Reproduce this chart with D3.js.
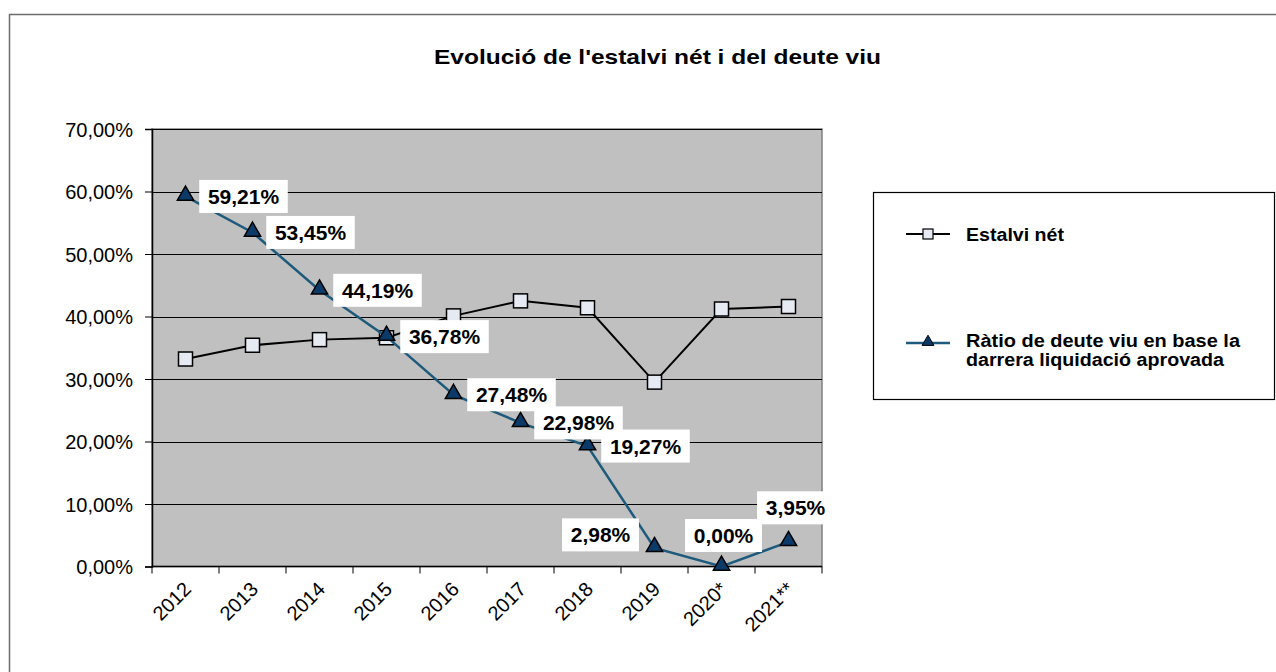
<!DOCTYPE html>
<html>
<head>
<meta charset="utf-8">
<script src="https://cdn.jsdelivr.net/npm/d3@7"></script>
<style>
  body { margin:0; background:#fff; }
  text { font-family: Arial, "Liberation Sans", sans-serif; }
</style>
</head>
<body>
<div id="chart"></div>
<script>
// data
var years = ["2012","2013","2014","2015","2016","2017","2018","2019","2020*","2021**"];
var estalviNet = [33.2, 35.4, 36.3, 36.6, 40.1, 42.5, 41.4, 29.5, 41.2, 41.6];
var ratioDeute = [59.21, 53.45, 44.19, 36.78, 27.48, 22.98, 19.27, 2.98, 0.00, 3.95];
var ratioLabelSide = ["right","right","right","right","right","right","right","left","above","aboveRight"];
var yTicks = [0,10,20,30,40,50,60,70];
var seriesNames = ["Estalvi nét", "Ràtio de deute viu en base la|darrera liquidació aprovada"];

var W = 1276, H = 672;
var plot = {left:152, right:822, top:129, bottom:566.5};

var svg = d3.select("#chart").append("svg")
    .attr("width", W).attr("height", H);

// outer chart frame (runs off right/bottom)
svg.append("rect")
    .attr("x", 9.5).attr("y", 14.5)
    .attr("width", W + 20).attr("height", H + 20)
    .attr("fill", "#fff").attr("stroke", "#6e6e6e").attr("stroke-width", 1.5);

svg.append("text")
    .attr("x", 434).attr("y", 64)
    .attr("textLength", 447).attr("lengthAdjust", "spacingAndGlyphs")
    .style("font-size", "21px").style("font-weight", "bold")
    .text("Evolució de l'estalvi nét i del deute viu");

var x = d3.scaleBand().domain(years).range([plot.left, plot.right]);
var y = d3.scaleLinear().domain([0, 70]).range([plot.bottom, plot.top]);
var fmt = function(v){ return d3.format(".2f")(v).replace(".", ",") + "%"; };

var g = svg.append("g");

g.append("rect")
    .attr("x", plot.left).attr("y", plot.top)
    .attr("width", plot.right - plot.left).attr("height", plot.bottom - plot.top)
    .attr("fill", "#c0c0c0").attr("stroke", "#808080").attr("stroke-width", 1.5);

// gridlines
g.selectAll("line.grid").data(yTicks.filter(function(d){return d > 0;}))
  .enter().append("line")
    .attr("class", "grid")
    .attr("x1", plot.left).attr("x2", plot.right)
    .attr("y1", function(d){return Math.round(y(d)) + 0.5;})
    .attr("y2", function(d){return Math.round(y(d)) + 0.5;})
    .attr("stroke", "#000").attr("stroke-width", 1);

// y axis
var yAxis = d3.axisLeft(y).tickValues(yTicks).tickSize(7).tickFormat(fmt);
var ya = g.append("g").attr("transform", "translate(" + plot.left + ",0)").call(yAxis);
ya.select(".domain").attr("stroke", "#000").attr("stroke-width", 1.5);
ya.selectAll(".tick line").attr("stroke", "#000");
ya.selectAll(".tick text")
    .attr("x", -19).attr("dy", "0.35em")
    .style("font-size", "20px").style("font-family", "Arial, 'Liberation Sans', sans-serif")
    .attr("fill", "#000");

// x axis: ticks at category boundaries
var xa = g.append("g").attr("transform", "translate(0," + plot.bottom + ")");
xa.append("line")
    .attr("x1", plot.left).attr("x2", plot.right)
    .attr("stroke", "#000").attr("stroke-width", 1.5);
var bounds = years.map(function(d){ return x(d); }).concat([plot.right]);
xa.selectAll("line.tk").data(bounds).enter().append("line")
    .attr("class", "tk")
    .attr("x1", function(d){return d;}).attr("x2", function(d){return d;})
    .attr("y1", 0).attr("y2", 7)
    .attr("stroke", "#000").attr("stroke-width", 1);
xa.selectAll("text").data(years).enter().append("text")
    .attr("transform", function(d){
        return "translate(" + (x(d) + x.bandwidth()/2 - 3) + ",14) rotate(-45)";
    })
    .attr("text-anchor", "end")
    .attr("dy", "0.7em")
    .style("font-size", "20px")
    .text(function(d){return d;});

var cx = function(i){ return x(years[i]) + x.bandwidth()/2; };

// Estalvi nét series
var line = d3.line().x(function(d,i){return cx(i);}).y(function(d){return y(d);});
g.append("path").datum(estalviNet)
    .attr("d", line).attr("fill", "none")
    .attr("stroke", "#000").attr("stroke-width", 2);
g.selectAll("rect.sq").data(estalviNet).enter().append("rect")
    .attr("class", "sq")
    .attr("x", function(d,i){return cx(i) - 7;})
    .attr("y", function(d){return y(d) - 7;})
    .attr("width", 14).attr("height", 14)
    .attr("fill", "#e6eaf2").attr("stroke", "#000").attr("stroke-width", 1.5);

// Ràtio de deute series
var navyLine = "#1d5a7c", navyFill = "#0c3a68";
g.append("path").datum(ratioDeute)
    .attr("d", line).attr("fill", "none")
    .attr("stroke", navyLine).attr("stroke-width", 2.5);
var tri = d3.symbol().type(d3.symbolTriangle).size(115);
g.selectAll("path.tri").data(ratioDeute).enter().append("path")
    .attr("class", "tri")
    .attr("d", tri)
    .attr("transform", function(d,i){ return "translate(" + cx(i) + "," + (y(d) - 1) + ")"; })
    .attr("fill", navyFill).attr("stroke", "#000").attr("stroke-width", 1.5);

// data labels
var lab = g.append("g");
ratioDeute.forEach(function(v, i){
    var px = cx(i), py = y(v), side = ratioLabelSide[i];
    var lx = px + 58, ly = py;
    if (side === "left") { lx = px - 54; ly = py - 13; }
    if (side === "above") { lx = px + 2; ly = py - 31; }
    if (side === "aboveRight") { lx = px + 7; ly = py - 34; }
    var gg = lab.append("g");
    var t = gg.append("text")
        .attr("x", lx).attr("y", ly).attr("dy", "0.36em")
        .attr("text-anchor", "middle")
        .style("font-size", "21px").style("font-weight", "bold")
        .text(fmt(v));
    var bb = t.node().getBBox();
    gg.insert("rect", "text")
        .attr("x", lx - (bb.width + 17)/2).attr("y", ly - 16.5)
        .attr("width", bb.width + 17).attr("height", 33)
        .attr("fill", "#fff");
});

// legend
var leg = svg.append("g");
leg.append("rect")
    .attr("x", 873.5).attr("y", 192.5).attr("width", 401).attr("height", 207)
    .attr("fill", "#fff").attr("stroke", "#000").attr("stroke-width", 1.2);
leg.append("line").attr("x1", 906).attr("x2", 950).attr("y1", 234).attr("y2", 234)
    .attr("stroke", "#000").attr("stroke-width", 2);
leg.append("rect").attr("x", 923).attr("y", 229).attr("width", 10).attr("height", 10)
    .attr("fill", "#e6eaf2").attr("stroke", "#000").attr("stroke-width", 1.2);
leg.append("text").attr("x", 966).attr("y", 241)
    .attr("textLength", 98).attr("lengthAdjust", "spacingAndGlyphs")
    .style("font-size", "18px").style("font-weight", "bold")
    .text(seriesNames[0]);
leg.append("line").attr("x1", 906).attr("x2", 950).attr("y1", 343).attr("y2", 343)
    .attr("stroke", navyLine).attr("stroke-width", 2.5);
leg.append("path").attr("d", d3.symbol().type(d3.symbolTriangle).size(60))
    .attr("transform", "translate(928,342)")
    .attr("fill", navyFill).attr("stroke", "#000").attr("stroke-width", 1);
var lineLens = [274, 258];
seriesNames[1].split("|").forEach(function(s, k){
    leg.append("text").attr("x", 966).attr("y", 347 + k * 19)
        .attr("textLength", lineLens[k]).attr("lengthAdjust", "spacingAndGlyphs")
        .style("font-size", "18px").style("font-weight", "bold")
        .text(s);
});
</script>
</body>
</html>
